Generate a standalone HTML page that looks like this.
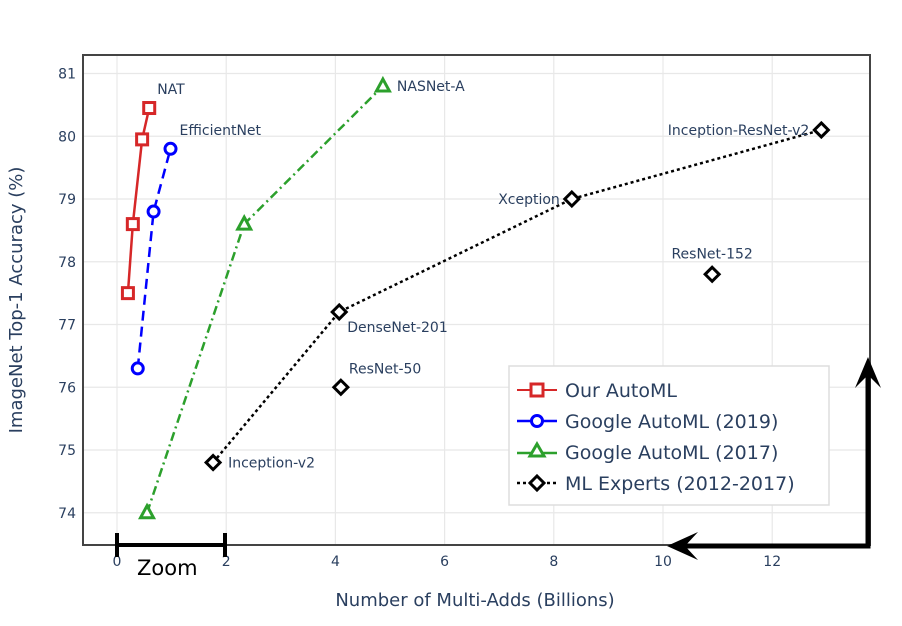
<!DOCTYPE html>
<html><head><meta charset="utf-8"><style>
body{margin:0;background:#fff;}
svg{display:block;font-family:"DejaVu Sans","Liberation Sans",sans-serif;}
</style></head><body>
<svg id="chart" width="902" height="626" viewBox="0 0 902 626">
<g id="grid"></g>
<rect x="83" y="55" width="787" height="490" fill="none" stroke="#444" stroke-width="2"/>
<g id="ticks"></g>
<g id="series"></g>
<g id="labels"></g>
<text x="475" y="606" text-anchor="middle" font-size="18" fill="#2a3f5f">Number of Multi-Adds (Billions)</text>
<text transform="translate(22,300) rotate(-90)" text-anchor="middle" font-size="18" fill="#2a3f5f">ImageNet Top-1 Accuracy (%)</text>
<g>
<rect x="509" y="366" width="320" height="139" fill="#fff" stroke="#ddd" stroke-width="1.5"/>
<g>
<line x1="517" y1="390" x2="557" y2="390" stroke="#d62728" stroke-width="2"/><rect x="531" y="384" width="12" height="12" fill="#fff" stroke="#d62728" stroke-width="3"/>
<text x="565" y="397" font-size="19" fill="#2a3f5f">Our AutoML</text></g>
<g>
<line x1="517" y1="421" x2="557" y2="421" stroke="#0000ff" stroke-width="2.5"/><circle cx="537" cy="421" r="5.5" fill="#fff" stroke="#0000ff" stroke-width="3"/>
<text x="565" y="428" font-size="19" fill="#2a3f5f">Google AutoML (2019)</text></g>
<g>
<line x1="517" y1="453" x2="557" y2="453" stroke="#2ca02c" stroke-width="2.5"/><polygon points="537,444 544,456 530,456" fill="#fff" stroke="#2ca02c" stroke-width="3"/>
<text x="565" y="459" font-size="19" fill="#2a3f5f">Google AutoML (2017)</text></g>
<g>
<line x1="517" y1="483" x2="557" y2="483" stroke="#000" stroke-width="2.5" stroke-dasharray="3,3"/><polygon points="537,476 544,483 537,490 530,483" fill="#fff" stroke="#000" stroke-width="3"/>
<text x="565" y="490" font-size="19" fill="#2a3f5f">ML Experts (2012-2017)</text></g>
</g>
<g>
<line x1="117" y1="545" x2="225" y2="545" stroke="#000" stroke-width="4"/>
<line x1="117" y1="533" x2="117" y2="557" stroke="#000" stroke-width="4"/>
<line x1="225" y1="533" x2="225" y2="557" stroke="#000" stroke-width="4"/>
<text x="137" y="575" font-size="21" fill="#000">Zoom</text>
</g>
<g>
<polyline points="868,365 868,546 675,546" fill="none" stroke="#000" stroke-width="5"/>
<polygon points="868,357 855,388 868,375 881,388" fill="#000"/>
<polygon points="667,546 698,532 685,546 698,560" fill="#000"/>
</g>
</svg>
<script>
const xTicks=[0,2,4,6,8,10,12];
const yTicks=[74,75,76,77,78,79,80,81];
const natX=[0.2,0.29,0.46,0.59];
const natY=[77.5,78.6,79.95,80.45];
const g19X=[0.38,0.67,0.98];
const g19Y=[76.3,78.8,79.8];
const g17X=[0.55,2.33,4.87];
const g17Y=[74.0,78.6,80.8];
const mlNames=["Inception-v2","DenseNet-201","Xception","Inception-ResNet-v2"];
const mlX=[1.76,4.07,8.33,12.9];
const mlY=[74.8,77.2,79.0,80.1];
const soloNames=["ResNet-50","ResNet-152"];
const soloX=[4.1,10.9];
const soloY=[76.0,77.8];
const sx=v=>117+v*54.6;
const sy=v=>73.5+(81-v)*62.75;
const NS="http://www.w3.org/2000/svg";
function mk(tag,attrs,parent){const e=document.createElementNS(NS,tag);for(const k in attrs)e.setAttribute(k,attrs[k]);parent.appendChild(e);return e;}
const grid=document.getElementById('grid'),ticks=document.getElementById('ticks'),series=document.getElementById('series'),labels=document.getElementById('labels');
xTicks.forEach(t=>{
 const l=mk('line',{x1:sx(t),x2:sx(t),y1:55,y2:545,stroke:'#e8e8e8','stroke-width':1.2},grid);
 
 
 const tx=mk('text',{x:sx(t),y:566,'text-anchor':'middle','font-size':14,fill:'#2a3f5f'},ticks);
 tx.textContent=t;
 
 
});
yTicks.forEach(t=>{
 const l=mk('line',{x1:83,x2:870,y1:sy(t),y2:sy(t),stroke:'#e8e8e8','stroke-width':1.2},grid);
 
 
 const tx=mk('text',{x:76,y:sy(t)+5,'text-anchor':'end','font-size':14,fill:'#2a3f5f'},ticks);
 tx.textContent=t;
 
 
});
function line(xs,ys,color,dash,name){
 const p=mk('polyline',{points:xs.map((x,i)=>sx(x)+','+sy(ys[i])).join(' '),fill:'none',stroke:color,'stroke-width':2.5,'stroke-dasharray':dash},series);
 
 
}
line(natX,natY,'#d62728','none','our-automl-line');
line(g19X,g19Y,'#0000ff','10,6','google-2019-line');
line(g17X,g17Y,'#2ca02c','9,4,2,4','google-2017-line');
line(mlX,mlY,'#000','3,3','ml-experts-line');
natX.forEach((x,i)=>{const m=mk('rect',{x:sx(x)-5.5,y:sy(natY[i])-5.5,width:11,height:11,fill:'#fff',stroke:'#d62728','stroke-width':3},series);
 
 });
g19X.forEach((x,i)=>{const m=mk('circle',{cx:sx(x),cy:sy(g19Y[i]),r:5.5,fill:'#fff',stroke:'#0000ff','stroke-width':3},series);
 
 });
g17X.forEach((x,i)=>{const cx=sx(x),cy=sy(g17Y[i]);const m=mk('polygon',{points:`${cx},${cy-7} ${cx+6.5},${cy+5} ${cx-6.5},${cy+5}`,fill:'#fff',stroke:'#2ca02c','stroke-width':3},series);
 
 });
function diamond(x,y,name){const cx=sx(x),cy=sy(y);const m=mk('polygon',{points:`${cx},${cy-7} ${cx+7},${cy} ${cx},${cy+7} ${cx-7},${cy}`,fill:'#fff',stroke:'#000','stroke-width':3},series);
 
 }
mlX.forEach((x,i)=>diamond(x,mlY[i],'ml-experts-point'));
soloX.forEach((x,i)=>diamond(x,soloY[i],'ml-experts-solo-point'));
function lab(text,x,y,dx,dy,anchor){const t=mk('text',{x:sx(x)+dx,y:sy(y)+dy,'text-anchor':anchor,'font-size':14,fill:'#2a3f5f'},labels);t.textContent=text;
 
 }
lab('NAT',natX[3],natY[3],8,-14,'start');
lab('EfficientNet',g19X[2],g19Y[2],9,-14,'start');
lab('NASNet-A',g17X[2],g17Y[2],14,5,'start');
lab(mlNames[0],mlX[0],mlY[0],15,5,'start');
lab(mlNames[1],mlX[1],mlY[1],8,20,'start');
lab(mlNames[2],mlX[2],mlY[2],-12,5,'end');
lab(mlNames[3],mlX[3],mlY[3],-12,5,'end');
lab(soloNames[0],soloX[0],soloY[0],8,-14,'start');
lab(soloNames[1],soloX[1],soloY[1],0,-16,'middle');
</script>
</body></html>
